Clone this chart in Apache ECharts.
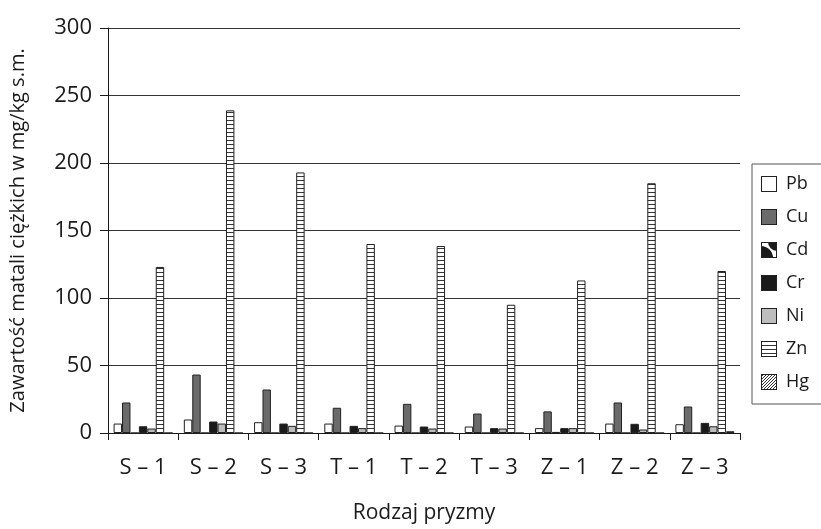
<!DOCTYPE html>
<html>
<head>
<meta charset="utf-8">
<script src="https://cdn.jsdelivr.net/npm/echarts@6/dist/echarts.min.js"></script>
<style>
  html, body { margin: 0; padding: 0; background: #fff; }
  #chart { width: 821px; height: 529px; }
</style>
</head>
<body>
<div id="chart"></div>
<script>
const categories = ["S – 1", "S – 2", "S – 3", "T – 1", "T – 2", "T – 3", "Z – 1", "Z – 2", "Z – 3"];
const pb = [7, 10, 8, 7, 5.5, 4.8, 3.6, 7, 6.5];
const cu = [22.6, 43.3, 32.2, 18.7, 21.6, 14.4, 16, 22.6, 19.6];
const cd = [0, 0, 0, 0, 0, 0, 0.8, 0, 0];
const cr = [5, 8.5, 7, 5.3, 4.8, 3.6, 3.6, 6.8, 7.5];
const ni = [3.3, 7, 5.3, 3.6, 3.3, 3.3, 3.6, 2.6, 5];
const zn = [123, 239, 193, 140, 138.5, 95, 113, 185, 120];
const hg = [0, 0, 0, 0, 0, 0, 0, 0, 1.3];
const yTicks = [0, 50, 100, 150, 200, 250, 300];

const font = "Open Sans";
const ink = "#1a1a1a";

function canvasOf(w, h, draw) {
  const c = document.createElement("canvas");
  c.width = w;
  c.height = h;
  draw(c.getContext("2d"), w, h);
  return c;
}

// fills
const zincFill = canvasOf(4, 4, (ctx, w, h) => {
  ctx.fillStyle = "#fff";
  ctx.fillRect(0, 0, w, h);
  ctx.fillStyle = "#333";
  ctx.fillRect(0, 0, w, 1);
});
const hgFill = canvasOf(4, 4, (ctx, w, h) => {
  ctx.fillStyle = "#fff";
  ctx.fillRect(0, 0, w, h);
  ctx.strokeStyle = "#333";
  ctx.lineWidth = 1;
  ctx.beginPath();
  ctx.moveTo(-1, 5); ctx.lineTo(5, -1);
  ctx.moveTo(3, 5); ctx.lineTo(5, 3);
  ctx.moveTo(-1, 1); ctx.lineTo(1, -1);
  ctx.stroke();
});
const cdFill = canvasOf(8, 8, (ctx, w, h) => {
  ctx.fillStyle = "#fff";
  ctx.fillRect(0, 0, w, h);
  ctx.fillStyle = ink;
  ctx.beginPath();
  ctx.moveTo(0, h); ctx.arc(0, h, w / 2, -Math.PI / 2, 0); ctx.closePath();
  ctx.moveTo(w, 0); ctx.arc(w, 0, w / 2, Math.PI / 2, Math.PI); ctx.closePath();
  ctx.fill();
});

const fills = {
  Pb: "#ffffff",
  Cu: "#6b6b6b",
  Cd: { image: cdFill, repeat: "repeat" },
  Cr: ink,
  Ni: "#bdbdbd",
  Zn: { image: zincFill, repeat: "repeat" },
  Hg: { image: hgFill, repeat: "repeat" },
};

// legend icons
function icon(name) {
  const c = canvasOf(16, 16, (ctx, w, h) => {
    ctx.fillStyle = "#fff";
    ctx.fillRect(0, 0, w, h);
    const f = fills[name];
    if (typeof f === "string") {
      ctx.fillStyle = f;
      ctx.fillRect(0, 0, w, h);
    } else if (name === "Cd") {
      ctx.fillStyle = ink;
      ctx.beginPath();
      ctx.moveTo(0, h); ctx.arc(0, h, 12, -Math.PI / 2, 0); ctx.closePath();
      ctx.moveTo(w, 0); ctx.arc(w, 0, 9, Math.PI / 2, Math.PI); ctx.closePath();
      ctx.fill();
    } else if (name === "Zn") {
      ctx.fillStyle = "#333";
      for (let y = 4; y < h; y += 4) ctx.fillRect(0, y, w, 1);
    } else {
      ctx.strokeStyle = "#333";
      ctx.lineWidth = 1;
      ctx.beginPath();
      for (let k = -h; k < w + h; k += 3) { ctx.moveTo(k, h); ctx.lineTo(k + h, 0); }
      ctx.stroke();
    }
    ctx.strokeStyle = "#222";
    ctx.lineWidth = 1;
    ctx.strokeRect(0.5, 0.5, w - 1, h - 1);
  });
  return "image://" + c.toDataURL();
}

const seriesData = [
  ["Pb", pb], ["Cu", cu], ["Cd", cd], ["Cr", cr], ["Ni", ni], ["Zn", zn], ["Hg", hg],
];

const chart = echarts.init(document.getElementById("chart"), null, { renderer: "canvas" });
chart.setOption({
  animation: false,
  textStyle: { fontFamily: font, color: ink },
  grid: { left: 108, right: 81, top: 28, bottom: 96, containLabel: false, outerBoundsMode: "none" },
  legend: {
    orient: "vertical",
    left: 752,
    top: 164,
    padding: [11, 20, 13, 9],
    itemWidth: 16,
    itemHeight: 16,
    itemGap: 15,
    borderColor: "#555",
    borderWidth: 1,
    textStyle: { fontFamily: font, fontSize: 18, color: ink, padding: [0, 0, 0, 4] },
    data: seriesData.map(([name]) => ({ name, icon: icon(name) })),
  },
  xAxis: {
    type: "category",
    data: categories,
    name: "Rodzaj pryzmy",
    nameLocation: "middle",
    nameGap: 70,
    nameTextStyle: { fontFamily: font, fontSize: 21, color: ink },
    axisLine: { lineStyle: { color: ink, width: 1 } },
    axisTick: { show: true, length: 7, lineStyle: { color: ink } },
    axisLabel: { fontFamily: font, fontSize: 22, color: ink, margin: 24 },
  },
  yAxis: {
    type: "value",
    min: 0,
    max: 300,
    interval: 50,
    name: "Zawartość matali ciężkich w mg/kg s.m.",
    nameLocation: "middle",
    nameGap: 80,
    nameTextStyle: { fontFamily: font, fontSize: 20, color: ink },
    axisLine: { show: true, lineStyle: { color: ink, width: 1 } },
    axisTick: { show: true, length: 8, lineStyle: { color: ink } },
    axisLabel: {
      fontFamily: font,
      fontSize: 22,
      color: ink,
      margin: 16,
      formatter: (v) => (yTicks.includes(v) ? String(v) : ""),
    },
    splitLine: { lineStyle: { color: "#333", width: 1 } },
  },
  series: seriesData.map(([name, values]) => ({
    name,
    type: "bar",
    data: values,
    barGap: "0%",
    barCategoryGap: "16%",
    itemStyle: { color: fills[name], borderColor: "#222", borderWidth: 1 },
  })),
});
</script>
</body>
</html>
